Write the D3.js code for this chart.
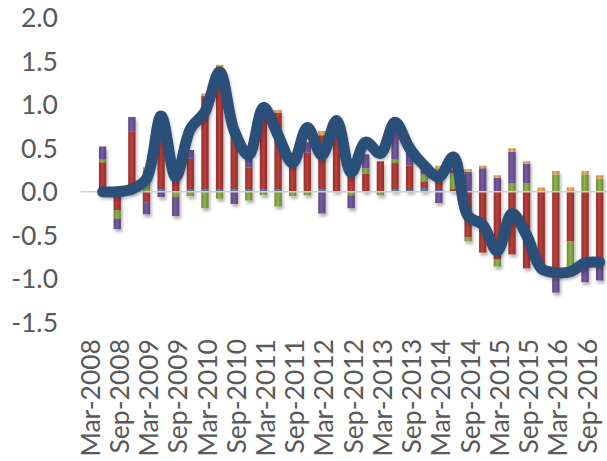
<!DOCTYPE html>
<html>
<head>
<meta charset="utf-8">
<script src="https://cdn.jsdelivr.net/npm/d3@7"></script>
<style>
  html, body { margin: 0; padding: 0; background: #ffffff; }
  svg { display: block; }
  text { font-family: Lato, "Noto Sans", sans-serif; fill: #595959; }
</style>
</head>
<body>
<svg id="chart" width="607" height="461"></svg>
<script>
// Quarterly categories, Mar-2008 .. Dec-2016
const quarters = [
  "Mar-2008","Jun-2008","Sep-2008","Dec-2008",
  "Mar-2009","Jun-2009","Sep-2009","Dec-2009",
  "Mar-2010","Jun-2010","Sep-2010","Dec-2010",
  "Mar-2011","Jun-2011","Sep-2011","Dec-2011",
  "Mar-2012","Jun-2012","Sep-2012","Dec-2012",
  "Mar-2013","Jun-2013","Sep-2013","Dec-2013",
  "Mar-2014","Jun-2014","Sep-2014","Dec-2014",
  "Mar-2015","Jun-2015","Sep-2015","Dec-2015",
  "Mar-2016","Jun-2016","Sep-2016","Dec-2016"
];

// Stacked contributions (stack order: blue, red, green, purple, orange)
const blueSeries = [0,0,0,0, 0,0.03,0,0.03, 0.03,0.03,0.03,0.03, 0.03,0.03,0,0,
  0.03,0,0,0, 0,0.03,0.02,0.04, 0.02,0,0,0, 0,0,0,0, 0,0,0,0];
const redSeries = [0,0.34,-0.21,0.69, -0.12,0.82,0.20,0.35, 1.07,1.40,0.70,0.25,
  0.90,0.88,0.33,0.45, 0.62,0.66,0.20,0.21, 0.35,0.30,0.28,0.08,
  0.15,0.03,-0.52,-0.70, -0.78,-0.72,-0.88,-0.86, -1.00,-0.57,-0.86,-0.84];
const greenSeries = [0,0.03,-0.10,0, 0.24,0,-0.06,-0.05, -0.19,-0.08,0,-0.10,
  -0.04,-0.17,-0.05,-0.04, 0,0.05,-0.04,0.06, -0.04,0.04,0,0.08,
  0.10,0.18,-0.05,0, -0.08,0.10,0.10,-0.06, 0.20,-0.36,0.20,0.15];
const purpleSeries = [0,0.15,-0.12,0.17, -0.14,-0.06,-0.22,0.10, 0,0,-0.14,0.10,
  0,0,0,0.12, -0.25,0,-0.15,0.16, 0,0.33,0.26,0.14,
  -0.13,0.05,0.23,0.27, 0.16,0.36,0.22,0, -0.16,0,-0.18,-0.18];
const orangeSeries = [0,0,0,0, 0.04,0.04,0.05,0, 0.03,0.03,0,0,
  0,0.03,0,0, 0.05,0,0,0, 0,0,0,0,
  0.03,0.02,0.03,0.03, 0.03,0.04,0.03,0.05, 0.04,0.05,0.04,0.04];

// Total (smoothed line)
const totalSeries = [null,0.00,0.00,0.03, 0.15,0.87,0.17,0.72, 0.92,1.38,0.70,0.42,
  0.97,0.65,0.33,0.74, 0.42,0.82,0.22,0.57, 0.44,0.80,0.50,0.30,
  0.17,0.40,-0.28,-0.38, -0.68,-0.25,-0.50,-0.88, -0.93,-0.92,-0.82,-0.81];

const yTicks = [-1.5, -1.0, -0.5, 0.0, 0.5, 1.0, 1.5, 2.0];
const xLabelEvery = 2;

const seriesKeys = ["blue", "red", "green", "purple", "orange"];
const seriesValues = {
  blue: blueSeries, red: redSeries, green: greenSeries,
  purple: purpleSeries, orange: orangeSeries
};
const seriesColors = {
  blue: "#4a7ebb", red: "#b23b38", green: "#88aa46",
  purple: "#71559b", orange: "#eea35c"
};

const svg = d3.select("#chart");

const x = d3.scaleBand()
  .domain(quarters)
  .range([80.7, 607])
  .paddingInner(0.5)
  .paddingOuter(0.25);

const y = d3.scaleLinear()
  .domain([-1.5, 2.0])
  .range([322.2, 17.8]);

// Cylinder-like shading for each bar colour
const defs = svg.append("defs");
seriesKeys.forEach(k => {
  const base = d3.color(seriesColors[k]);
  const g = defs.append("linearGradient")
    .attr("id", "grad-" + k)
    .attr("x1", "0").attr("x2", "1").attr("y1", "0").attr("y2", "0");
  g.append("stop").attr("offset", "0").attr("stop-color", base.darker(0.6));
  g.append("stop").attr("offset", "0.45").attr("stop-color", base.brighter(0.15));
  g.append("stop").attr("offset", "1").attr("stop-color", base.darker(0.7));
});
const shadow = defs.append("filter").attr("id", "barShadow")
  .attr("x", "-50%").attr("y", "-20%").attr("width", "200%").attr("height", "140%");
shadow.append("feDropShadow")
  .attr("dx", 1.5).attr("dy", 3).attr("stdDeviation", 1.6)
  .attr("flood-color", "#000").attr("flood-opacity", 0.3);
const lineShadow = defs.append("filter").attr("id", "lineShadow")
  .attr("x", "-10%").attr("y", "-10%").attr("width", "120%").attr("height", "120%");
lineShadow.append("feDropShadow")
  .attr("dx", 1).attr("dy", 2).attr("stdDeviation", 1.5)
  .attr("flood-color", "#000").attr("flood-opacity", 0.25);

// Y axis labels (no axis line)
svg.append("g").selectAll("text")
  .data(yTicks)
  .join("text")
  .attr("x", 58)
  .attr("y", d => y(d))
  .attr("dy", "0.36em")
  .attr("text-anchor", "end")
  .style("font-size", "26.5px")
  .text(d => d.toFixed(1));

// Stacked bars
const table = quarters.map((q, i) => {
  const row = { q };
  seriesKeys.forEach(k => { row[k] = seriesValues[k][i]; });
  return row;
});
const stacked = d3.stack()
  .keys(seriesKeys)
  .offset(d3.stackOffsetDiverging)(table);

const bars = svg.append("g").attr("filter", "url(#barShadow)");
stacked.forEach(layer => {
  bars.append("g")
    .attr("fill", "url(#grad-" + layer.key + ")")
    .selectAll("rect")
    .data(layer.filter(d => d[1] !== d[0]))
    .join("rect")
    .attr("x", d => x(d.data.q))
    .attr("width", x.bandwidth())
    .attr("y", d => y(Math.max(d[0], d[1])))
    .attr("height", d => Math.abs(y(d[0]) - y(d[1])));
});

// Zero line
svg.append("line")
  .attr("x1", 80.7).attr("x2", 607)
  .attr("y1", y(0)).attr("y2", y(0))
  .attr("stroke", "#d0d0d0").attr("stroke-width", 1.5);

// Smoothed total line
const line = d3.line()
  .defined(d => d.v !== null)
  .x(d => x(d.q) + x.bandwidth() / 2)
  .y(d => y(d.v))
  .curve(d3.curveCatmullRom.alpha(0.5));
svg.append("path")
  .datum(quarters.map((q, i) => ({ q, v: totalSeries[i] })))
  .attr("d", line)
  .attr("fill", "none")
  .attr("stroke", "#2b4f78")
  .attr("stroke-width", 11)
  .attr("stroke-linecap", "round")
  .attr("stroke-linejoin", "round")
  .attr("filter", "url(#lineShadow)");

// Rotated category labels, every other quarter
svg.append("g").selectAll("text")
  .data(quarters.filter((q, i) => i % xLabelEvery === 0))
  .join("text")
  .attr("transform", d => `translate(${x(d) + x.bandwidth() / 2 + 2},339) rotate(-90)`)
  .attr("dy", "0.36em")
  .attr("text-anchor", "end")
  .style("font-size", "26.5px")
  .text(d => d);
</script>
</body>
</html>
